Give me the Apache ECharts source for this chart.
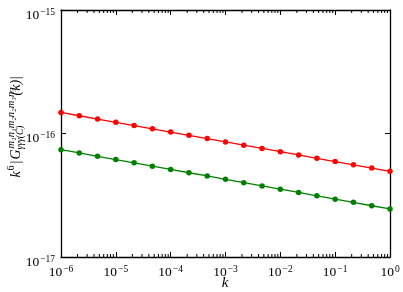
<!DOCTYPE html>
<html>
<head>
<meta charset="utf-8">
<script src="https://cdn.jsdelivr.net/npm/echarts@6/dist/echarts.min.js"></script>
<style>html,body{margin:0;padding:0;background:#fff}#c{width:403px;height:292px}</style>
</head>
<body>
<div id="c"></div>
<script>
// k values (1/3 decade steps from 1e-6 to 1)
const kValues = [1e-6, 2.154e-6, 4.642e-6, 1e-5, 2.154e-5, 4.642e-5, 1e-4, 2.154e-4, 4.642e-4,
  1e-3, 2.154e-3, 4.642e-3, 1e-2, 2.154e-2, 4.642e-2, 1e-1, 2.154e-1, 4.642e-1, 1];
const redValues = [1.48e-16, 1.392e-16, 1.31e-16, 1.233e-16, 1.16e-16, 1.091e-16, 1.026e-16, 9.66e-17, 9.09e-17,
  8.55e-17, 8.04e-17, 7.57e-17, 7.12e-17, 6.70e-17, 6.30e-17, 5.93e-17, 5.58e-17, 5.25e-17, 4.94e-17];
const greenValues = [7.40e-17, 6.96e-17, 6.54e-17, 6.15e-17, 5.79e-17, 5.44e-17, 5.12e-17, 4.81e-17, 4.53e-17,
  4.26e-17, 4.00e-17, 3.76e-17, 3.54e-17, 3.33e-17, 3.13e-17, 2.94e-17, 2.77e-17, 2.60e-17, 2.45e-17];
const xDecades = [-6, -5, -4, -3, -2, -1];
const minorMultipliers = [2, 3, 4, 5, 6, 7, 8, 9];
const xMin = 1e-6, xMax = 1, yMin = 1e-17, yMax = 1e-15;

const minorTicks = [];
xDecades.forEach(d => minorMultipliers.forEach(m => minorTicks.push([m * Math.pow(10, d)])));

const FONT = 'Liberation Serif';
function expLabel(v) {
  const e = Math.round(Math.log10(v));
  const s = e < 0 ? '\u2212' + (-e) : String(e);
  return '{b|10}{s|' + s + '}';
}
const richLabel = {
  b: {fontFamily: FONT, fontSize: 13.5, color: '#000', verticalAlign: 'bottom', lineHeight: 15},
  s: {fontFamily: FONT, fontSize: 9.5, color: '#000', verticalAlign: 'top', lineHeight: 9, padding: [0, 0, 0, 1]}
};
const axisLine = {show: true, onZero: false, lineStyle: {color: '#000', width: 1.3}};
const tick = {show: true, inside: true, length: 5, lineStyle: {color: '#000', width: 1}};

const chart = echarts.init(document.getElementById('c'), null, {renderer: 'canvas'});
chart.setOption({
  animation: false,
  backgroundColor: '#fff',
  grid: {left: 61, right: 13, top: 10, bottom: 35, containLabel: false, outerBoundsMode: 'none'},
  xAxis: [{
    type: 'log', min: xMin, max: xMax, logBase: 10, splitNumber: 6,
    axisLine: axisLine, axisTick: tick, splitLine: {show: false},
    axisLabel: {formatter: expLabel, rich: richLabel, margin: 7}
  }, {
    type: 'log', min: xMin, max: xMax, logBase: 10, splitNumber: 6, position: 'top',
    axisLine: axisLine, axisTick: tick, splitLine: {show: false}, axisLabel: {show: false}
  }],
  yAxis: [{
    type: 'log', min: yMin, max: yMax, logBase: 10, splitNumber: 2,
    axisLine: axisLine, axisTick: tick, splitLine: {show: false},
    axisLabel: {formatter: expLabel, rich: richLabel, margin: 6, padding: [9, 0, 0, 0]}
  }, {
    type: 'log', min: yMin, max: yMax, logBase: 10, splitNumber: 2, position: 'right',
    axisLine: axisLine, axisTick: tick, splitLine: {show: false}, axisLabel: {show: false}
  }],
  graphic: [{
    type: 'text', x: 225, y: 283,
    style: {text: 'k', font: 'italic 15px "Liberation Serif"', fill: '#000', align: 'center', verticalAlign: 'middle'}
  }, {
    type: 'group', x: 16, y: 124.5, rotation: Math.PI / 2,
    children: [
      {type: 'text', x: -53, y: 0, style: {text: 'k', font: 'italic 14px "Liberation Serif"', fill: '#000', verticalAlign: 'middle'}},
      {type: 'text', x: -46, y: -5, style: {text: '6', font: '10px "Liberation Serif"', fill: '#000', verticalAlign: 'middle'}},
      {type: 'text', x: -39, y: 0, style: {text: '|', font: '14px "Liberation Serif"', fill: '#000', verticalAlign: 'middle'}},
      {type: 'text', x: -35, y: 0, style: {text: 'G', font: 'italic 14px "Liberation Serif"', fill: '#000', verticalAlign: 'middle'}},
      {type: 'text', x: -24, y: -5, style: {text: 'm\u2081n\u2081m\u2082n\u2082m\u2083n\u2083', font: 'italic 10.5px "Liberation Serif"', fill: '#000', verticalAlign: 'middle'}},
      {type: 'text', x: -25, y: 4.5, style: {text: '\u03b3\u03b3\u03b3(C)', font: 'italic 9.5px "Liberation Serif"', fill: '#000', verticalAlign: 'middle'}},
      {type: 'text', x: 29, y: 0, style: {text: '(k)|', font: 'italic 14px "Liberation Serif"', fill: '#000', verticalAlign: 'middle'}}
    ]
  }],
  series: [{
    type: 'line', data: kValues.map((k, i) => [k, redValues[i]]),
    color: '#ff0000', symbol: 'circle', symbolSize: 5.5, showSymbol: true,
    lineStyle: {width: 1.3, color: '#ff0000'}, itemStyle: {color: '#ff0000'}
  }, {
    type: 'line', data: kValues.map((k, i) => [k, greenValues[i]]),
    color: '#008000', symbol: 'circle', symbolSize: 5.5, showSymbol: true,
    lineStyle: {width: 1.3, color: '#008000'}, itemStyle: {color: '#008000'}
  }, {
    type: 'custom', data: minorTicks, silent: true, z: 5,
    renderItem: function (params, api) {
      const v = api.value(0);
      const b = api.coord([v, yMin]);
      const t = api.coord([v, yMax]);
      return {type: 'group', children: [
        {type: 'line', shape: {x1: b[0], y1: b[1], x2: b[0], y2: b[1] - 3}, style: {stroke: '#000', lineWidth: 1}},
        {type: 'line', shape: {x1: t[0], y1: t[1], x2: t[0], y2: t[1] + 3}, style: {stroke: '#000', lineWidth: 1}}
      ]};
    }
  }]
});
</script>
</body>
</html>
